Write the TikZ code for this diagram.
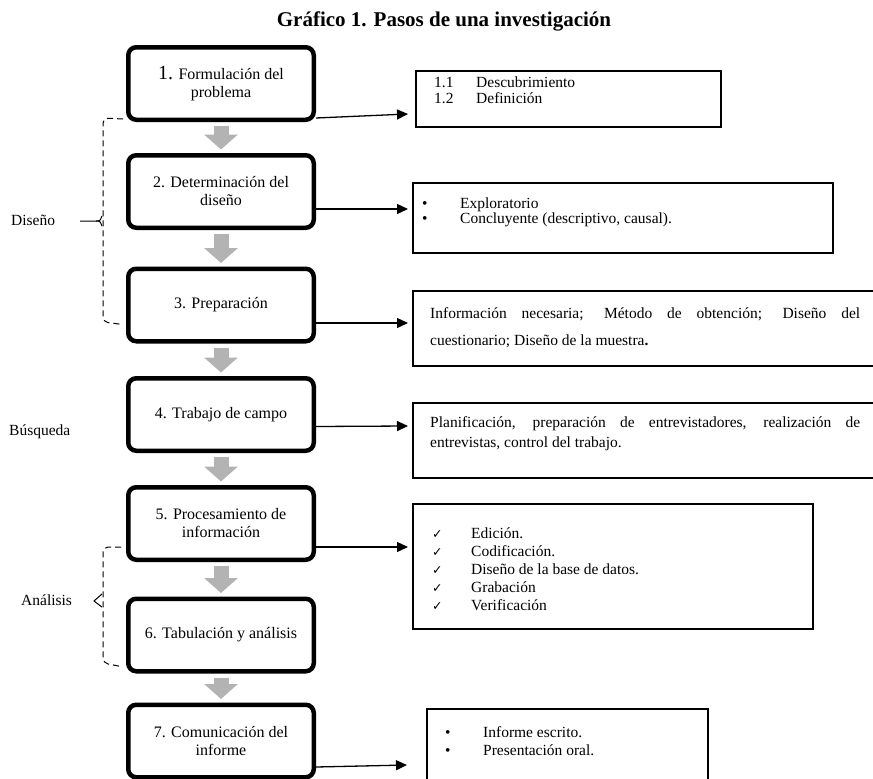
\documentclass[tikz,border=0pt]{standalone}
\usepackage{fontspec}
\setmainfont{Liberation Serif}
\newfontfamily\symfont{DejaVu Sans}
\usetikzlibrary{arrows.meta,calc}
\definecolor{flowgray}{HTML}{B3B3B3}
\newcommand{\chk}{\makebox[39pt][l]{\symfont\fontsize{12.5}{12.5}\selectfont ✓}}
\newcommand{\bul}{\makebox[38pt][l]{•}}
\begin{document}
\begin{tikzpicture}[x=1pt,y=-1pt,
  stepbox/.style={draw, line width=4.5pt, rounded corners=8pt, minimum width=185.5pt, minimum height=72.5pt, inner sep=0pt, align=center, font=\fontsize{16}{18}\selectfont},
  infobox/.style={draw, line width=2pt, inner sep=0pt},
  flow/.style={draw=flowgray, line width=15pt, -{Triangle[width=33pt,length=15pt]}, shorten <=4pt, shorten >=3.5pt},
  link/.style={draw, line width=1.3pt, -{Triangle[width=10pt,length=11pt]}},
  ln/.style={anchor=base west, inner sep=0pt, font=\fontsize{15.5}{17}\selectfont},
  side/.style={anchor=west, inner sep=0pt, font=\fontsize{15.5}{17}\selectfont},
  bracket/.style={dash pattern=on 6pt off 4pt, line width=1pt, rounded corners=5pt},
  bracetip/.style={line width=1pt},
]
\clip (0,0) rectangle (873,779);

\node[font=\fontsize{21}{24}\selectfont\bfseries] (title) at (444,21) {Gráfico 1. Pasos de una investigación};

% step boxes
\node[stepbox] (s1) at (221,83.5) {{\fontsize{20}{20}\selectfont 1.} Formulación del\\problema};
\node[stepbox] (s2) at (221,191.5) {2. Determinación del\\diseño};
\node[stepbox] (s3) at (221,305) {3. Preparación};
\node[stepbox] (s4) at (221,414.5) {4. Trabajo de campo};
\node[stepbox] (s5) at (221,523.5) {5. Procesamiento de\\información};
\node[stepbox] (s6) at (221,635) {6. Tabulación y análisis};
\node[stepbox] (s7) at (221,741) {7. Comunicación del\\informe};

% gray flow arrows
\draw[flow] (s1.south) -- (s2.north);
\draw[flow] (s2.south) -- (s3.north);
\draw[flow] (s3.south) -- (s4.north);
\draw[flow] (s4.south) -- (s5.north);
\draw[flow] (s5.south) -- (s6.north);
\draw[flow] (s6.south) -- (s7.north);

% info boxes
\node[infobox, minimum width=305pt, minimum height=56pt] (r1) at (568.5,99) {};
\node[infobox, minimum width=420pt, minimum height=70pt] (r2) at (623,218) {};
\node[infobox, minimum width=507pt, minimum height=75pt] (r3) at (666.5,328.5) {};
\node[infobox, minimum width=507pt, minimum height=75pt] (r4) at (666.5,440.5) {};
\node[infobox, minimum width=400pt, minimum height=125pt] (r5) at (613,566.5) {};
\node[infobox, minimum width=281pt, minimum height=91pt] (r7) at (567.5,754.5) {};

% links
\draw[link] ($(s1.south east)+(0,-4)$) -- ($(r1.south west)+(-7,-14)$);
\draw[link] ($(s2.east)+(0,17.5)$) -- ($(r2.west)+(-4,-9)$);
\draw[link] ($(s3.east)+(0,18)$) -- ($(r3.west)+(-4,-5.5)$);
\draw[link] ($(s4.east)+(0,12)$) -- ($(r4.west)+(-4,-14.5)$);
\draw[link] ($(s5.east)+(0,23.5)$) -- ($(r5.west)+(-4,-19.5)$);
\draw[link] ($(s7.east)+(0,26)$) -- ($(r7.west)+(-19,10.5)$);

% texts in info boxes
\node[ln] (t11) at (434,87) {\makebox[42pt][l]{1.1}Descubrimiento};
\node[ln] (t12) at (434,103) {\makebox[42pt][l]{1.2}Definición};
\node[ln] (t21) at (422,208) {\bul Exploratorio};
\node[ln] (t22) at (422,223) {\bul Concluyente (descriptivo, causal).};
\node[ln] (t31) at (430,318) {\makebox[430pt][s]{Información necesaria; Método de obtención; Diseño del}};
\node[ln] (t32) at (430,345) {cuestionario; Diseño de la muestra\textbf{.}};
\node[ln] (t41) at (430,427) {\makebox[430pt][s]{Planificación, preparación de entrevistadores, realización de}};
\node[ln] (t42) at (430,447) {entrevistas, control del trabajo.};
\node[ln] (t51) at (432,538) {\chk Edición.};
\node[ln] (t52) at (432,556) {\chk Codificación.};
\node[ln] (t53) at (432,574) {\chk Diseño de la base de datos.};
\node[ln] (t54) at (432,592) {\chk Grabación};
\node[ln] (t55) at (432,610) {\chk Verificación};
\node[ln] (t71) at (445,737) {\bul Informe escrito.};
\node[ln] (t72) at (445,755) {\bul Presentación oral.};

% side labels
\node[side] (lab1) at (11,220) {Diseño};
\node[side] (lab2) at (9,432) {Búsqueda};
\node[side] (lab3) at (21,600) {Análisis};

% brackets
\draw[bracket] ($(s1.south west)+(-3,-3)$) -- (103,118) -- (103,322) -- ($(s3.south west)+(-3,-19)$);
\coordinate (d0) at (80,221);
\coordinate (d1) at (96,221);
\draw[bracetip] (d0) -- (d1) .. controls (100,221) .. (102,216);
\draw[bracetip] (d1) .. controls (100,221) .. (102,226);

\draw[bracket] ($(s5.south west)+(-5,-15)$) -- (103,547) -- (103,663) -- ($(s6.south west)+(-5,-7)$);
\coordinate (e0) at (102,594);
\coordinate (e1) at (94,601);
\coordinate (e2) at (102,607);
\draw[bracetip] (e0) -- (e1) -- (e2);
\end{tikzpicture}
\end{document}
